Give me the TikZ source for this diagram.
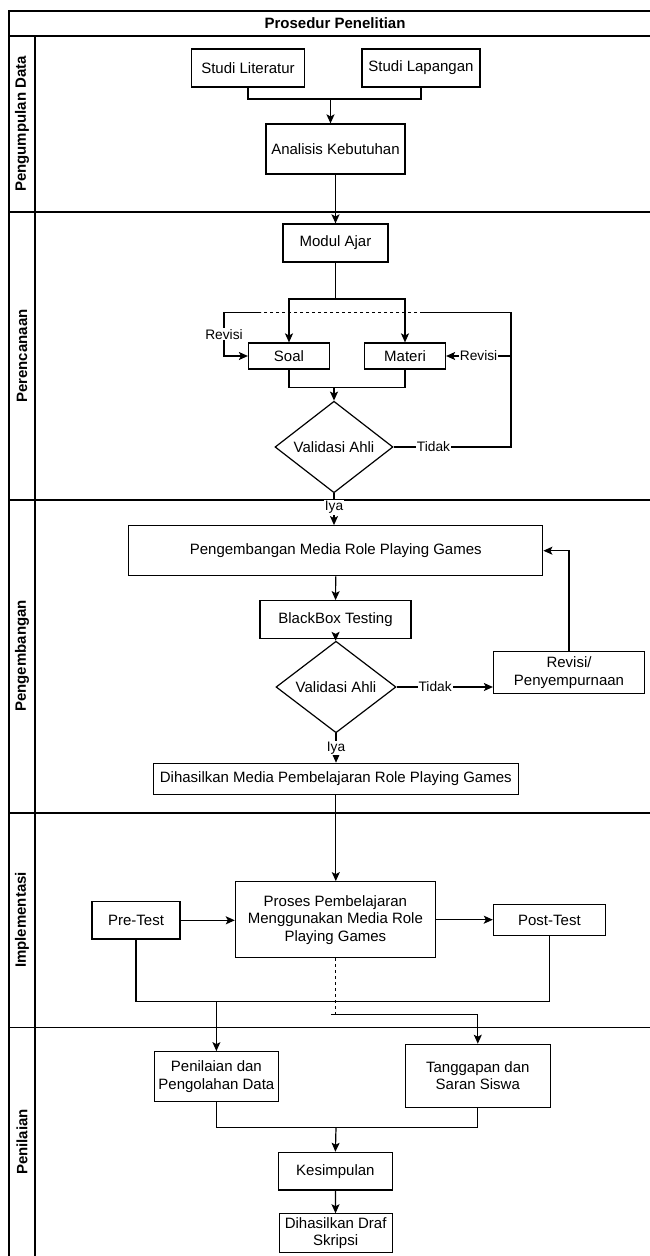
\documentclass[tikz,border=0pt]{standalone}
\usepackage{fontspec}
\setmainfont{Liberation Sans}
\usepackage{tikz}
\usetikzlibrary{shapes.geometric, arrows, arrows.meta, positioning}

\begin{document}
\begin{tikzpicture}[x=1pt, y=-1pt, >={Stealth[length=9pt, width=8pt, inset=2pt]}]
  \tikzstyle{box} = [rectangle, draw=black, line width=1.2pt, inner sep=2pt, align=center, font=\fontsize{15}{17.5}\selectfont]
  \tikzstyle{decision} = [diamond, draw=black, line width=1.2pt, inner sep=0pt, align=center, font=\fontsize{15}{17.5}\selectfont]
  \tikzstyle{lane} = [rotate=90, font=\fontsize{15}{17.5}\selectfont\bfseries]
  \tikzstyle{lbl} = [fill=white, inner sep=1pt, font=\fontsize{13.75}{15}\selectfont]
  \tikzstyle{line} = [line width=1.2pt]
  \tikzstyle{arrow} = [line width=1.2pt, ->]
  \tikzstyle{frame} = [line width=1.3pt]

  \useasboundingbox (0,0) rectangle (650,1256);
  \clip (0,0) rectangle (650,1256);

  % swimlanes
  \draw [frame] (9,11) rectangle (700,1300);
  \foreach \y in {36,212,500,813,1027.5}
    \draw [frame] (9,\y) -- (700,\y);
  \draw [frame] (35,36) -- (35,1300);
  \node (title) [font=\fontsize{15}{17.5}\selectfont\bfseries] at (335,23.5) {Prosedur Penelitian};
  \node (lane1) [lane] at (22,124) {Pengumpulan Data};
  \node (lane2) [lane] at (22,356) {Perencanaan};
  \node (lane3) [lane] at (22,656) {Pengembangan};
  \node (lane4) [lane] at (22,920) {Implementasi};
  \node (lane5) [lane] at (22,1142) {Penilaian};

  % pengumpulan data
  \node (litstudi) [box, minimum width=113pt, minimum height=38pt] at (248,68) {Studi Literatur};
  \node (lapstudi) [box, minimum width=118pt, minimum height=38pt] at (421,68) {Studi Lapangan};
  \node (analisis) [box, minimum width=139pt, minimum height=50pt] at (335.5,149) {Analisis Kebutuhan};

  % perencanaan
  \node (modul) [box, minimum width=105pt, minimum height=38pt] at (335.5,243) {Modul Ajar};
  \node (soal) [box, minimum width=81pt, minimum height=26pt] at (289,356) {Soal};
  \node (materi) [box, minimum width=81pt, minimum height=26pt] at (405,356) {Materi};
  \node (valid1) [decision, minimum width=118pt, minimum height=68pt] at (334,447) {Validasi Ahli};

  % pengembangan
  \node (pengembangan) [box, minimum width=414pt, minimum height=50pt] at (335.8,550.7) {Pengembangan Media Role Playing Games};
  \node (blackbox) [box, minimum width=151pt, minimum height=37.6pt] at (335.5,619.5) {BlackBox Testing};
  \node (valid2) [decision, minimum width=120pt, minimum height=68pt] at (336,687) {Validasi Ahli};
  \node (revisi) [box, minimum width=151pt, minimum height=41.6pt] at (569,672.5) {Revisi/\\Penyempurnaan};
  \node (hasilmedia) [box, minimum width=365pt, minimum height=31pt] at (335.8,778.8) {Dihasilkan Media Pembelajaran Role Playing Games};

  % implementasi
  \node (proses) [box, minimum width=200pt, minimum height=76pt] at (335.4,919.7) {Proses Pembelajaran\\Menggunakan Media Role\\Playing Games};
  \node (pretest) [box, minimum width=88pt, minimum height=37.3pt] at (136,920.3) {Pre-Test};
  \node (posttest) [box, minimum width=112pt, minimum height=31.7pt] at (549.4,920) {Post-Test};

  % penilaian
  \node (penilaian) [box, minimum width=124.4pt, minimum height=50pt] at (216.4,1076.7) {Penilaian dan\\Pengolahan Data};
  \node (tanggapan) [box, minimum width=144.7pt, minimum height=63pt] at (477.8,1075.8) {Tanggapan dan\\Saran Siswa};
  \node (kesimpulan) [box, minimum width=113.6pt, minimum height=37.7pt] at (335.4,1171.2) {Kesimpulan};
  \node (draf) [box, minimum width=113pt, minimum height=38.3pt] at (335.6,1233) {Dihasilkan Draf\\Skripsi};

  % junctions
  \coordinate (m1) at (330.5,99);
  \coordinate (m2) at (335.5,299);
  \coordinate (m3) at (334,387.7);
  \coordinate (c1a) at (511,312.3);
  \coordinate (c1b) at (224,312.3);
  \coordinate (dashR) at (423,312.3);
  \coordinate (dashL) at (261,312.3);
  \coordinate (m4) at (216.4,1001.3);
  \coordinate (m5) at (335.4,1014.3);
  \coordinate (m6) at (336,1127.3);

  % connectors
  \draw [line] (litstudi.south) |- (m1) -| (lapstudi.south);
  \draw [arrow] (m1) -- (m1 |- analisis.north);
  \draw [arrow] (analisis) -- (modul);
  \draw [line] (modul.south) -- (m2);
  \draw [arrow] (m2) -| (soal.north);
  \draw [arrow] (m2) -| (materi.north);
  \draw [line] (soal.south) |- (m3) -| (materi.south);
  \draw [arrow] (m3) -- (valid1.north);

  \draw [line] (valid1.east) -- node[lbl, pos=0.34] {Tidak} (valid1.east -| c1a) -- (c1a) -- (dashR);
  \draw [line, dashed] (dashR) -- (dashL);
  \draw [arrow] (dashL) -- (c1b) |- node[lbl, pos=0.25] {Revisi} (soal.west);
  \draw [arrow] (c1a |- materi.east) -- node[lbl] {Revisi} (materi.east);
  \draw [arrow] (valid1.south) -- node[lbl, pos=0.44] {Iya} (valid1.south |- pengembangan.north);

  \draw [arrow] (pengembangan) -- (blackbox);
  \draw [arrow] (blackbox) -- (valid2);
  \draw [arrow] (valid2.east) -- node[lbl, pos=0.4] {Tidak} (valid2.east -| revisi.west);
  \draw [arrow] (revisi.north) |- (pengembangan.east);
  \draw [arrow] (valid2.south) -- node[lbl] {Iya} (valid2.south |- hasilmedia.north);
  \draw [arrow] (hasilmedia.south) -- (hasilmedia.south |- proses.north);

  \draw [arrow] (pretest.east) -- (pretest.east -| proses.west);
  \draw [arrow] (proses.east) -- (proses.east -| posttest.west);
  \draw [line] (pretest.south) |- (m4) -| (posttest.south);
  \draw [arrow] (m4) -- (penilaian.north);
  \draw [line, dashed] (proses.south) -- (m5);
  \draw [arrow] ([xshift=-4pt]m5) -| (tanggapan.north);

  \draw [line] (penilaian.south) |- (m6) -| (tanggapan.south);
  \draw [arrow] (m6) -- (kesimpulan.north);
  \draw [arrow] (kesimpulan) -- (draf);
\end{tikzpicture}
\end{document}
